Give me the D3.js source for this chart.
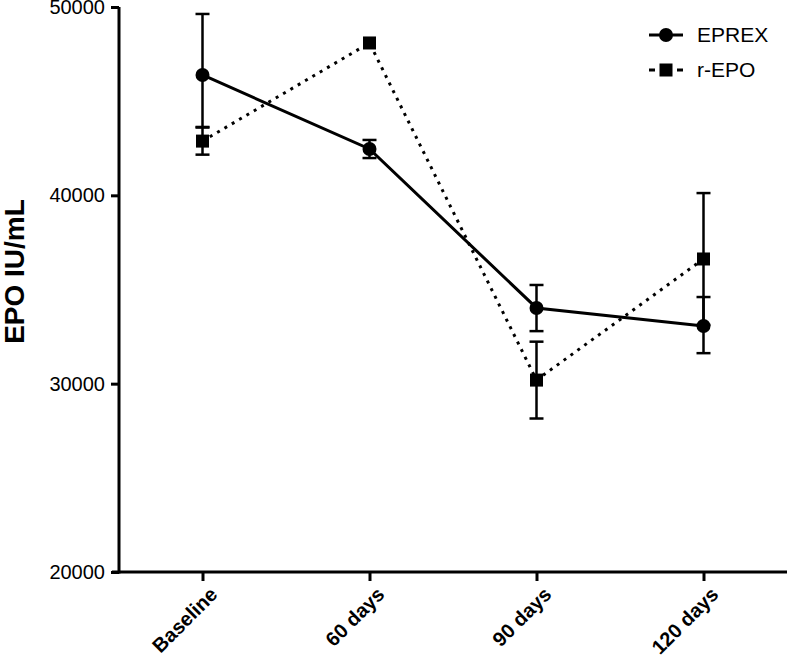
<!DOCTYPE html>
<html>
<head>
<meta charset="utf-8">
<script src="https://cdn.jsdelivr.net/npm/d3@7/dist/d3.min.js"></script>
<style>
  html, body { margin: 0; padding: 0; background: #fff; }
  svg { display: block; font-family: "Liberation Sans", Arial, sans-serif; }
</style>
</head>
<body>
<svg id="chart" width="787" height="663"></svg>
<script>
// ---- data ----
const categories = ["Baseline", "60 days", "90 days", "120 days"];
const seriesNames = ["EPREX", "r-EPO"];
const eprexMean = [46390, 42460, 34020, 33060];
const eprexLow  = [43630, 41980, 32790, 31620];
const eprexHigh = [49630, 42940, 35240, 34600];
const repoMean  = [42880, 48090, 30190, 36620];
const repoLow   = [42160, 48090, 28150, 33120];
const repoHigh  = [43600, 48090, 32230, 40120];
const yTicks = [20000, 30000, 40000, 50000];
const yTitle = "EPO IU/mL";

const svg = d3.select("#chart");
const x = d3.scalePoint().domain(categories).range([119, 787]).padding(0.5);
const y = d3.scaleLinear().domain([20000, 50000]).range([572, 7]);

// axes
const yAxis = d3.axisLeft(y).tickValues(yTicks).tickSize(8).tickPadding(6).tickFormat(d3.format("d"));
const gy = svg.append("g").attr("transform", "translate(119,0)").call(yAxis);
gy.select(".domain").attr("d", `M0,${y(50000)}V${y(20000) + 1.5}`).attr("stroke", "#000").attr("stroke-width", 3);
gy.selectAll(".tick line").attr("stroke", "#000").attr("stroke-width", 3);
gy.selectAll(".tick text").attr("font-size", 20).attr("fill", "#000")
  .attr("font-family", "'Liberation Sans', Arial, sans-serif");

const xAxis = d3.axisBottom(x).tickSize(9).tickFormat(d => d);
const gx = svg.append("g").attr("transform", `translate(0,${y(20000)})`).call(xAxis);
gx.select(".domain").attr("d", "M112,0H787").attr("stroke", "#000").attr("stroke-width", 3);
gx.selectAll(".tick line").attr("stroke", "#000").attr("stroke-width", 3);
gx.selectAll(".tick text")
  .attr("font-size", 20).attr("font-weight", "bold").attr("fill", "#000")
  .attr("font-family", "'Liberation Sans', Arial, sans-serif")
  .attr("text-anchor", "end").attr("dy", null)
  .attr("transform", "translate(12,20) rotate(-45)")
  .attr("x", 0).attr("y", 0).attr("dominant-baseline", "middle");

// y title
svg.append("text")
  .attr("transform", `translate(24,${y(35000) - 18}) rotate(-90)`)
  .attr("text-anchor", "middle")
  .attr("font-size", 28).attr("font-weight", "bold")
  .attr("font-family", "'Liberation Sans', Arial, sans-serif")
  .text(yTitle);

// lines
const line = d3.line().x(d => x(d.c)).y(d => y(d.v));
const eprexData = categories.map((c, i) => ({ c, v: eprexMean[i], lo: eprexLow[i], hi: eprexHigh[i] }));
const repoData = categories.map((c, i) => ({ c, v: repoMean[i], lo: repoLow[i], hi: repoHigh[i] }));

svg.append("path").datum(repoData).attr("d", line)
  .attr("fill", "none").attr("stroke", "#000").attr("stroke-width", 3)
  .attr("stroke-dasharray", "3,5.5");
svg.append("path").datum(eprexData).attr("d", line)
  .attr("fill", "none").attr("stroke", "#000").attr("stroke-width", 3);

// error bars
function errorBars(data) {
  const g = svg.append("g").attr("stroke", "#000").attr("stroke-width", 2.5);
  data.filter(d => d.hi > d.lo).forEach(d => {
    const cx = x(d.c);
    g.append("line").attr("x1", cx).attr("x2", cx).attr("y1", y(d.hi)).attr("y2", y(d.lo));
    g.append("line").attr("x1", cx - 7).attr("x2", cx + 7).attr("y1", y(d.hi)).attr("y2", y(d.hi));
    g.append("line").attr("x1", cx - 7).attr("x2", cx + 7).attr("y1", y(d.lo)).attr("y2", y(d.lo));
  });
}
errorBars(repoData);
errorBars(eprexData);

// markers
svg.append("g").selectAll("rect").data(repoData).join("rect")
  .attr("x", d => x(d.c) - 6.5).attr("y", d => y(d.v) - 6.5)
  .attr("width", 13).attr("height", 13).attr("fill", "#000");
svg.append("g").selectAll("circle").data(eprexData).join("circle")
  .attr("cx", d => x(d.c)).attr("cy", d => y(d.v)).attr("r", 7).attr("fill", "#000");

// legend
const lg = svg.append("g");
lg.append("line").attr("x1", 649).attr("x2", 683).attr("y1", 35).attr("y2", 35)
  .attr("stroke", "#000").attr("stroke-width", 3);
lg.append("circle").attr("cx", 666).attr("cy", 35).attr("r", 7).attr("fill", "#000");
lg.append("text").attr("x", 697).attr("y", 42).attr("font-size", 21).text(seriesNames[0]);

lg.append("line").attr("x1", 649).attr("x2", 683).attr("y1", 70).attr("y2", 70)
  .attr("stroke", "#000").attr("stroke-width", 3).attr("stroke-dasharray", "6,22,6");
lg.append("rect").attr("x", 659.5).attr("y", 63.5).attr("width", 13).attr("height", 13).attr("fill", "#000");
lg.append("text").attr("x", 697).attr("y", 77).attr("font-size", 21).text(seriesNames[1]);
</script>
</body>
</html>
